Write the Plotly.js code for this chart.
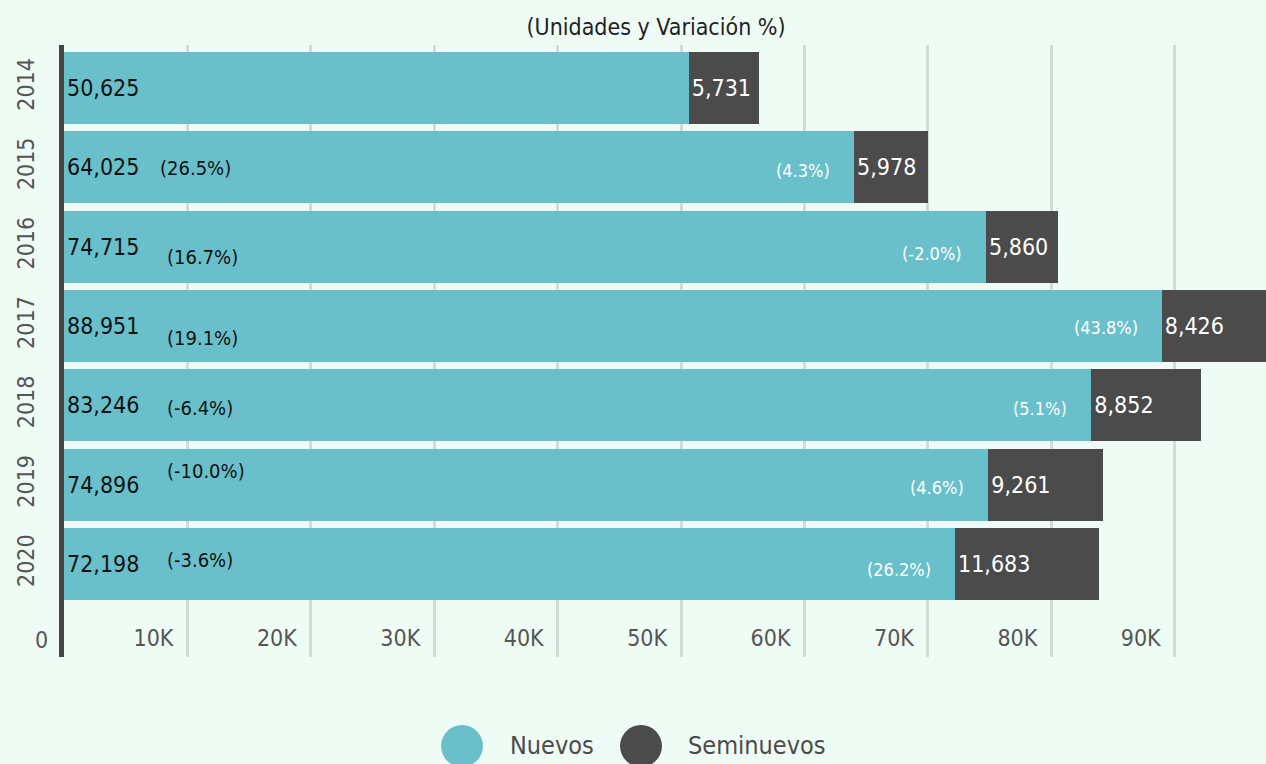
<!DOCTYPE html>
<html>
<head>
<meta charset="utf-8">
<script src="https://cdn.plot.ly/plotly-3.0.1.min.js"></script>
<style>
html,body{margin:0;padding:0;background:#effcf5;}
#chart{width:1266px;height:764px;}
</style>
</head>
<body>
<div id="chart"></div>
<script>
const years = ['2014','2015','2016','2017','2018','2019','2020'];
const nuevos = [50625, 64025, 74715, 88951, 83246, 74896, 72198];
const seminuevos = [5731, 5978, 5860, 8426, 8852, 9261, 11683];
const varNuevos = ['', '(26.5%)', '(16.7%)', '(19.1%)', '(-6.4%)', '(-10.0%)', '(-3.6%)'];
const varSeminuevos = ['', '(4.3%)', '(-2.0%)', '(43.8%)', '(5.1%)', '(4.6%)', '(26.2%)'];
const xTickVals = [0, 10000, 20000, 30000, 40000, 50000, 60000, 70000, 80000, 90000];
const xTickText = ['0', '10K', '20K', '30K', '40K', '50K', '60K', '70K', '80K', '90K'];
const seriesNames = ['Nuevos', 'Seminuevos'];

// style-only label nudges (pixels, positive = down on screen)
const nuevosLabelDown = [0, 1, 10, 12, 3, -14, -4];
const semiLabelDown = [0, 3, 7, 1, 3, 3, 5];

const FONT = '"Liberation Sans Narrow", "DejaVu Sans Condensed", "Roboto", sans-serif';
const C_NUEVOS = '#69c0ca';
const C_SEMI = '#4b4b4b';

const fmt = v => v.toLocaleString('en-US');

const traces = [
  {
    type: 'bar', orientation: 'h', name: seriesNames[0],
    y: years, x: nuevos,
    text: nuevos.map(fmt), textposition: 'inside', insidetextanchor: 'start',
    constraintext: 'none', textangle: 0,
    textfont: {family: FONT, size: 23, color: '#111'},
    marker: {color: C_NUEVOS, line: {width: 0}},
    hoverinfo: 'skip', showlegend: false
  },
  {
    type: 'bar', orientation: 'h', name: seriesNames[1],
    y: years, x: seminuevos,
    text: seminuevos.map(fmt), textposition: 'inside', insidetextanchor: 'start',
    constraintext: 'none', textangle: 0,
    textfont: {family: FONT, size: 23, color: '#ffffff'},
    marker: {color: C_SEMI, line: {width: 0}},
    hoverinfo: 'skip', showlegend: false
  }
];

const annotations = [];
years.forEach((y, i) => {
  if (varNuevos[i]) {
    annotations.push({
      x: 0, y: i, xref: 'x', yref: 'y', text: varNuevos[i], showarrow: false,
      xanchor: 'left', yanchor: 'middle', xshift: i === 1 ? 94 : 101, yshift: -nuevosLabelDown[i],
      font: {family: FONT, size: 20, color: '#111'}
    });
  }
  if (varSeminuevos[i]) {
    annotations.push({
      x: nuevos[i], y: i, xref: 'x', yref: 'y', text: varSeminuevos[i], showarrow: false,
      xanchor: 'right', yanchor: 'middle', xshift: -22, yshift: -semiLabelDown[i],
      font: {family: FONT, size: 18, color: '#ffffff'}
    });
  }
});

// "0" tick label sits left of the axis line (outside the plot area)
annotations.push({
  x: xTickVals[0], xref: 'x', y: (657 - 640) / 612, yref: 'paper', text: xTickText[0],
  showarrow: false, xanchor: 'right', yanchor: 'middle', xshift: -14,
  font: {family: FONT, size: 23, color: '#555'}
});

// custom legend (large circles)
const legendItems = [
  {name: seriesNames[0], color: C_NUEVOS, cx: 462, tx: 508},
  {name: seriesNames[1], color: C_SEMI, cx: 641, tx: 686}
];
const PL = 64, PW = 1202, PB = 657, PH = 612;
const shapes = [];
legendItems.forEach(it => {
  shapes.push({
    type: 'circle', xref: 'paper', yref: 'paper',
    xsizemode: 'pixel', ysizemode: 'pixel',
    xanchor: (it.cx - PL) / PW, yanchor: (PB - 746) / PH,
    x0: -21, x1: 21, y0: -21, y1: 21,
    fillcolor: it.color, line: {width: 0}
  });
  annotations.push({
    xref: 'paper', yref: 'paper', x: (it.tx - PL) / PW, y: (PB - 745) / PH,
    xanchor: 'left', yanchor: 'middle', showarrow: false, text: it.name,
    font: {family: FONT, size: 25, color: '#4b4b4b'}
  });
});

const layout = {
  width: 1266, height: 764,
  paper_bgcolor: '#effcf5', plot_bgcolor: '#effcf5',
  margin: {l: 64, r: 0, t: 45, b: 107, pad: 0},
  barmode: 'stack', bargap: 0.09,
  font: {family: FONT, color: '#555'},
  title: {
    text: '(Unidades y Variación %)', x: 656 / 1266, xref: 'container', xanchor: 'center',
    y: 1 - 27 / 764, yref: 'container', yanchor: 'middle',
    font: {family: FONT, size: 23, color: '#222'}
  },
  xaxis: {
    range: [0, 97400], tickvals: xTickVals, ticktext: xTickText,
    showgrid: true, gridcolor: '#d3dbd6', gridwidth: 3,
    zeroline: false, showline: false, ticks: '',
    ticklabelposition: 'inside left', ticklabelshift: -14,
    tickfont: {family: FONT, size: 23, color: '#555'},
    fixedrange: true
  },
  yaxis: {
    type: 'category', categoryorder: 'array', categoryarray: years,
    range: [7.17, -0.54],
    showgrid: false, zeroline: false,
    showline: true, linecolor: '#444', linewidth: 5,
    ticks: '', tickangle: -90, ticklabelstandoff: 16,
    tickfont: {family: FONT, size: 23, color: '#555'},
    fixedrange: true
  },
  annotations: annotations,
  shapes: shapes,
  showlegend: false
};

Plotly.newPlot('chart', traces, layout, {displayModeBar: false, staticPlot: true});
</script>
</body>
</html>
